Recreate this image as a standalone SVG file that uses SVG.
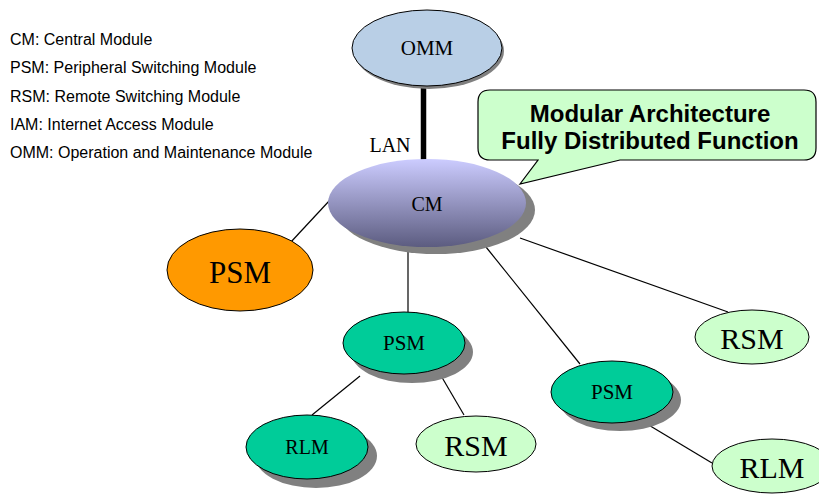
<svg xmlns="http://www.w3.org/2000/svg" width="819" height="494" viewBox="0 0 819 494">
  <defs>
    <linearGradient id="cmFill" x1="0" y1="0" x2="0" y2="1">
      <stop offset="0" stop-color="#ccccff"/>
      <stop offset="1" stop-color="#5c5c80"/>
    </linearGradient>
  </defs>
  <style>
    .legend { font-family: "Liberation Sans", Arial, sans-serif; font-size: 16px; fill: #000; }
    .lbl { font-family: "Liberation Serif", "Times New Roman", serif; fill: #000; text-anchor: middle; dominant-baseline: central; }
    .node { stroke: #000; stroke-width: 1; }
    .shadow { fill: #808080; }
    .link { stroke: #000; stroke-width: 1.2; fill: none; }
    .callout { font-family: "Liberation Sans", Arial, sans-serif; font-size: 24px; font-weight: bold; fill: #000; text-anchor: middle; }
  </style>

  <!-- legend -->
  <g id="legend">
    <text class="legend" x="10" y="45">CM: Central Module</text>
    <text class="legend" x="10" y="73">PSM: Peripheral Switching Module</text>
    <text class="legend" x="10" y="102">RSM: Remote Switching Module</text>
    <text class="legend" x="10" y="130">IAM: Internet Access Module</text>
    <text class="legend" x="10" y="158">OMM: Operation and Maintenance Module</text>
  </g>

  <!-- connectors -->
  <g id="connectors">
    <line x1="423.5" y1="86" x2="423.5" y2="162" stroke="#000" stroke-width="5.5"/>
    <line class="link" x1="290" y1="243" x2="330" y2="200"/>
    <line class="link" x1="408" y1="252" x2="408" y2="312"/>
    <line class="link" x1="486" y1="247" x2="580" y2="364"/>
    <line class="link" x1="520" y1="238" x2="728" y2="312"/>
    <line class="link" x1="360" y1="376" x2="312" y2="415"/>
    <line class="link" x1="440" y1="374" x2="464" y2="415"/>
    <line class="link" x1="647" y1="424" x2="712" y2="463"/>
  </g>

  <!-- LAN label -->
  <text id="lan" class="lbl" x="390" y="145" font-size="20">LAN</text>

  <g id="omm">
    <ellipse class="shadow" cx="429" cy="51" rx="75" ry="38"/>
    <ellipse class="node" cx="427" cy="48" rx="75" ry="38" fill="#b9cfe6"/>
    <text class="lbl" x="427" y="48" font-size="21">OMM</text>
  </g>

  <g id="callout">
    <path d="M490,90 H804 Q816,90 816,102 V148 Q816,160 804,160 H620 L520,184 L538,160 H490 Q478,160 478,148 V102 Q478,90 490,90 Z" fill="#ccffcc" stroke="#000" stroke-width="1.2"/>
    <text class="callout" x="650" y="122">Modular Architecture</text>
    <text class="callout" x="650" y="149">Fully Distributed Function</text>
  </g>

  <g id="cm">
    <ellipse class="shadow" cx="436" cy="210" rx="99" ry="44"/>
    <ellipse cx="427" cy="203" rx="99" ry="44" fill="url(#cmFill)"/>
    <text class="lbl" x="427" y="204" font-size="20">CM</text>
  </g>

  <g id="psm-orange">
    <ellipse class="node" cx="240" cy="270" rx="73" ry="41" fill="#ff9900"/>
    <text class="lbl" x="240" y="272" font-size="31">PSM</text>
  </g>

  <g id="psm1">
    <ellipse class="shadow" cx="412" cy="352" rx="61" ry="31"/>
    <ellipse class="node" cx="404" cy="343" rx="61" ry="31" fill="#00cc99"/>
    <text class="lbl" x="404" y="343" font-size="21">PSM</text>
  </g>

  <g id="psm2">
    <ellipse class="shadow" cx="620" cy="400" rx="61" ry="31"/>
    <ellipse class="node" cx="612" cy="392" rx="61" ry="31" fill="#00cc99"/>
    <text class="lbl" x="612" y="392" font-size="21">PSM</text>
  </g>

  <g id="rlm1">
    <ellipse class="shadow" cx="316" cy="456" rx="61" ry="32"/>
    <ellipse class="node" cx="307" cy="447" rx="61" ry="32" fill="#00cc99"/>
    <text class="lbl" x="307" y="447" font-size="20">RLM</text>
  </g>

  <g id="rsm1">
    <ellipse class="node" cx="476" cy="444" rx="60" ry="28" fill="#ccffcc"/>
    <text class="lbl" x="476" y="445" font-size="30">RSM</text>
  </g>

  <g id="rsm2">
    <ellipse class="node" cx="752" cy="337" rx="57" ry="27" fill="#ccffcc"/>
    <text class="lbl" x="752" y="338" font-size="30">RSM</text>
  </g>

  <g id="rlm2">
    <ellipse class="node" cx="772" cy="466" rx="60" ry="27" fill="#ccffcc"/>
    <text class="lbl" x="772" y="467" font-size="30">RLM</text>
  </g>
</svg>
